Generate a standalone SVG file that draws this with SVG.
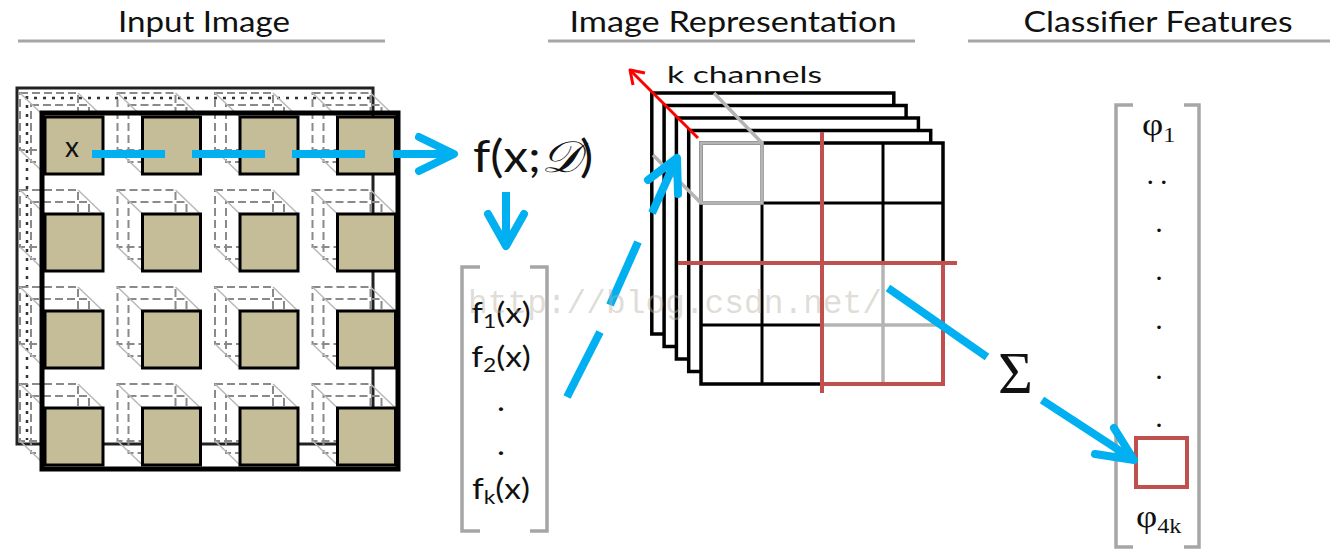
<svg xmlns="http://www.w3.org/2000/svg" width="1340" height="550" viewBox="0 0 1340 550">
<defs>
<style>
.title{font-family:Lato,"Liberation Sans",sans-serif;font-size:28px;fill:#111}
.uline{stroke:#a6a6a6;stroke-width:3}
.sans{font-family:Lato,"Liberation Sans",sans-serif;fill:#111}
.serif{font-family:"Liberation Serif","DejaVu Serif",serif;fill:#111}
.tan{fill:#c4bd97;stroke:#000;stroke-width:3}
.dash{fill:none;stroke:#8a8a8a;stroke-width:2;stroke-dasharray:8 4}
.diag{stroke:#b8b8b8;stroke-width:1.5}
.layer{fill:#fff;stroke:#000;stroke-width:3.5}
.grid{stroke:#000;stroke-width:3}
.gray{stroke:#b4b4b4;stroke-width:3.5;fill:none}
.redbox{stroke:#c0504d;stroke-width:4;fill:none}
.blue{stroke:#00b0f0;stroke-width:8;fill:none}
.bluehead{stroke:#00b0f0;stroke-width:8;fill:none;stroke-linecap:round;stroke-linejoin:round}
.bracket{stroke:#a6a6a6;stroke-width:3.5;fill:none}
</style>
<g id="cell-ext">
<rect class="dash" x="-25" y="-24" width="58" height="57"/>
<rect class="dash" x="-14" y="-12" width="58" height="57"/>
<line class="diag" x1="-25" y1="-24" x2="0" y2="0"/>
<line class="diag" x1="33" y1="-24" x2="58" y2="0"/>
<line class="diag" x1="-25" y1="33" x2="0" y2="57"/>
</g>
</defs>
<rect width="1340" height="550" fill="#fff"/>

<g id="titles">
<text class="title" x="204" y="32" text-anchor="middle" textLength="172" lengthAdjust="spacingAndGlyphs">Input Image</text>
<line class="uline" x1="18" y1="41" x2="385" y2="41"/>
<text class="title" x="733" y="32" text-anchor="middle" textLength="327" lengthAdjust="spacingAndGlyphs">Image Representation</text>
<line class="uline" x1="548" y1="41" x2="915" y2="41"/>
<text class="title" x="1158" y="32" text-anchor="middle" textLength="269" lengthAdjust="spacingAndGlyphs">Classifier Features</text>
<line class="uline" x1="968" y1="41" x2="1330" y2="41"/>
</g>

<g id="input-image">
<rect x="17" y="88" width="356" height="356" fill="none" stroke="#222" stroke-width="3"/>
<line x1="27" y1="96" x2="27" y2="440" stroke="#333" stroke-width="2.5" stroke-dasharray="3 6"/>
<line x1="25" y1="98" x2="370" y2="98" stroke="#333" stroke-width="2.5" stroke-dasharray="3 6"/>
<g>
<use href="#cell-ext" x="45" y="117"/><use href="#cell-ext" x="142.5" y="117"/><use href="#cell-ext" x="240" y="117"/><use href="#cell-ext" x="337.5" y="117"/>
<use href="#cell-ext" x="45" y="214"/><use href="#cell-ext" x="142.5" y="214"/><use href="#cell-ext" x="240" y="214"/><use href="#cell-ext" x="337.5" y="214"/>
<use href="#cell-ext" x="45" y="311"/><use href="#cell-ext" x="142.5" y="311"/><use href="#cell-ext" x="240" y="311"/><use href="#cell-ext" x="337.5" y="311"/>
<use href="#cell-ext" x="45" y="408"/><use href="#cell-ext" x="142.5" y="408"/><use href="#cell-ext" x="240" y="408"/><use href="#cell-ext" x="337.5" y="408"/>
</g>
<rect x="42" y="113" width="356" height="356" fill="none" stroke="#000" stroke-width="5"/>
<g>
<rect class="tan" x="45" y="117" width="58" height="57"/><rect class="tan" x="142.5" y="117" width="58" height="57"/><rect class="tan" x="240" y="117" width="58" height="57"/><rect class="tan" x="337.5" y="117" width="58" height="57"/>
<rect class="tan" x="45" y="214" width="58" height="57"/><rect class="tan" x="142.5" y="214" width="58" height="57"/><rect class="tan" x="240" y="214" width="58" height="57"/><rect class="tan" x="337.5" y="214" width="58" height="57"/>
<rect class="tan" x="45" y="311" width="58" height="57"/><rect class="tan" x="142.5" y="311" width="58" height="57"/><rect class="tan" x="240" y="311" width="58" height="57"/><rect class="tan" x="337.5" y="311" width="58" height="57"/>
<rect class="tan" x="45" y="408" width="58" height="57"/><rect class="tan" x="142.5" y="408" width="58" height="57"/><rect class="tan" x="240" y="408" width="58" height="57"/><rect class="tan" x="337.5" y="408" width="58" height="57"/>
</g>
<text class="sans" x="65" y="157" font-size="28">x</text>
</g>

<g id="function">
<text class="sans" font-size="44" transform="translate(473,172) scale(1.12,1)">f(x;<tspan font-family="'DejaVu Serif','Liberation Serif',serif" font-style="italic">𝒟</tspan>)</text>
</g>

<g id="feature-vector">
<path class="bracket" d="M480,267 H462 V531 H480 M530,267 H547 V531 H530"/>
<g transform="translate(501,0) scale(1.2,1)" class="sans" font-size="28" text-anchor="middle">
<text x="0" y="323">f<tspan font-size="19" dy="5">1</tspan><tspan dy="-5">(x)</tspan></text>
<text x="0" y="367">f<tspan font-size="19" dy="5">2</tspan><tspan dy="-5">(x)</tspan></text>
<text x="0" y="411">.</text>
<text x="0" y="455">.</text>
<text x="0" y="499">f<tspan font-size="19" dy="5">k</tspan><tspan dy="-5">(x)</tspan></text>
</g>
</g>

<g id="image-representation">
<rect class="layer" x="651.8" y="93" width="242" height="241"/>
<rect class="layer" x="664.1" y="105.5" width="242" height="241"/>
<rect class="layer" x="676.4" y="118" width="242" height="241"/>
<rect class="layer" x="688.7" y="130.5" width="242" height="241"/>
<rect class="layer" x="701" y="143" width="242" height="241"/>
<line class="grid" x1="762" y1="143" x2="762" y2="384"/>
<line class="grid" x1="883" y1="143" x2="883" y2="263"/>
<line class="grid" x1="701" y1="203" x2="943" y2="203"/>
<line class="grid" x1="701" y1="325" x2="822" y2="325"/>
<line class="gray" x1="883" y1="263" x2="883" y2="384" stroke="#c4c4c4"/>
<line class="gray" x1="822" y1="325" x2="943" y2="325" stroke="#c4c4c4"/>
<rect class="gray" x="701" y="143" width="61" height="60"/>
<line class="gray" x1="762" y1="143" x2="714" y2="93"/>
<line class="gray" x1="701" y1="203" x2="653" y2="155"/>
<line class="redbox" x1="822" y1="132" x2="822" y2="393"/>
<line class="redbox" x1="678" y1="263" x2="957" y2="263"/>
<rect class="redbox" x="822" y="263" width="121" height="121"/>
<line x1="698" y1="138" x2="631" y2="71" stroke="#ff0000" stroke-width="3"/>
<path d="M645,73 L630,70 L633,85" fill="none" stroke="#ff0000" stroke-width="3" stroke-linejoin="round"/>
<text class="sans" x="667" y="83" font-size="24" textLength="155" lengthAdjust="spacingAndGlyphs">k channels</text>
</g>

<g id="sigma">
<text class="serif" x="998" y="393" font-size="60">Σ</text>
</g>

<g id="classifier-features">
<path class="bracket" d="M1133,105 H1116 V547 H1133 M1184,105 H1199 V547 H1184"/>
<g transform="translate(1142,0) scale(1.15,1)" class="serif">
<text x="0" y="135" font-size="32">φ<tspan font-size="21" dy="7">1</tspan></text>
</g>
<g class="serif" font-size="30" text-anchor="middle">
<text x="1160" y="184" letter-spacing="6">..</text>
<text x="1159" y="232">.</text>
<text x="1159" y="280">.</text>
<text x="1159" y="329">.</text>
<text x="1159" y="379">.</text>
<text x="1159" y="427">.</text>
</g>
<rect class="redbox" x="1136" y="438" width="51" height="49"/>
<g transform="translate(1136,0) scale(1.15,1)" class="serif">
<text x="0" y="527" font-size="32">φ<tspan font-size="21" dy="6">4k</tspan></text>
</g>
</g>

<g id="connectors">
<line class="blue" x1="92" y1="154" x2="165" y2="154"/>
<line class="blue" x1="192" y1="154" x2="265" y2="154"/>
<line class="blue" x1="292" y1="154" x2="365" y2="154"/>
<line class="blue" x1="393" y1="154" x2="452" y2="154"/>
<path class="bluehead" d="M419,137 L454,154 L419,171"/>
<line class="blue" x1="506" y1="192" x2="506" y2="244"/>
<path class="bluehead" d="M488,214 L506,246 L524,214"/>
<line class="blue" x1="567" y1="397" x2="600" y2="332"/>
<line class="blue" x1="610" y1="305" x2="638" y2="242"/>
<line class="blue" x1="652" y1="213" x2="676" y2="160"/>
<path class="bluehead" d="M648,180 L677,158 L678,194"/>
<line class="blue" x1="888" y1="288" x2="987" y2="357"/>
<line class="blue" x1="1042" y1="400" x2="1131" y2="458"/>
<path class="bluehead" d="M1114,428 L1134,460 L1095,454"/>
</g>

<g id="watermark">
<text x="468" y="313" font-family="'Liberation Mono',monospace" font-size="33" fill="#b9b2a6" fill-opacity="0.45" textLength="414" lengthAdjust="spacingAndGlyphs">http://blog.csdn.net/</text>
</g>
</svg>
